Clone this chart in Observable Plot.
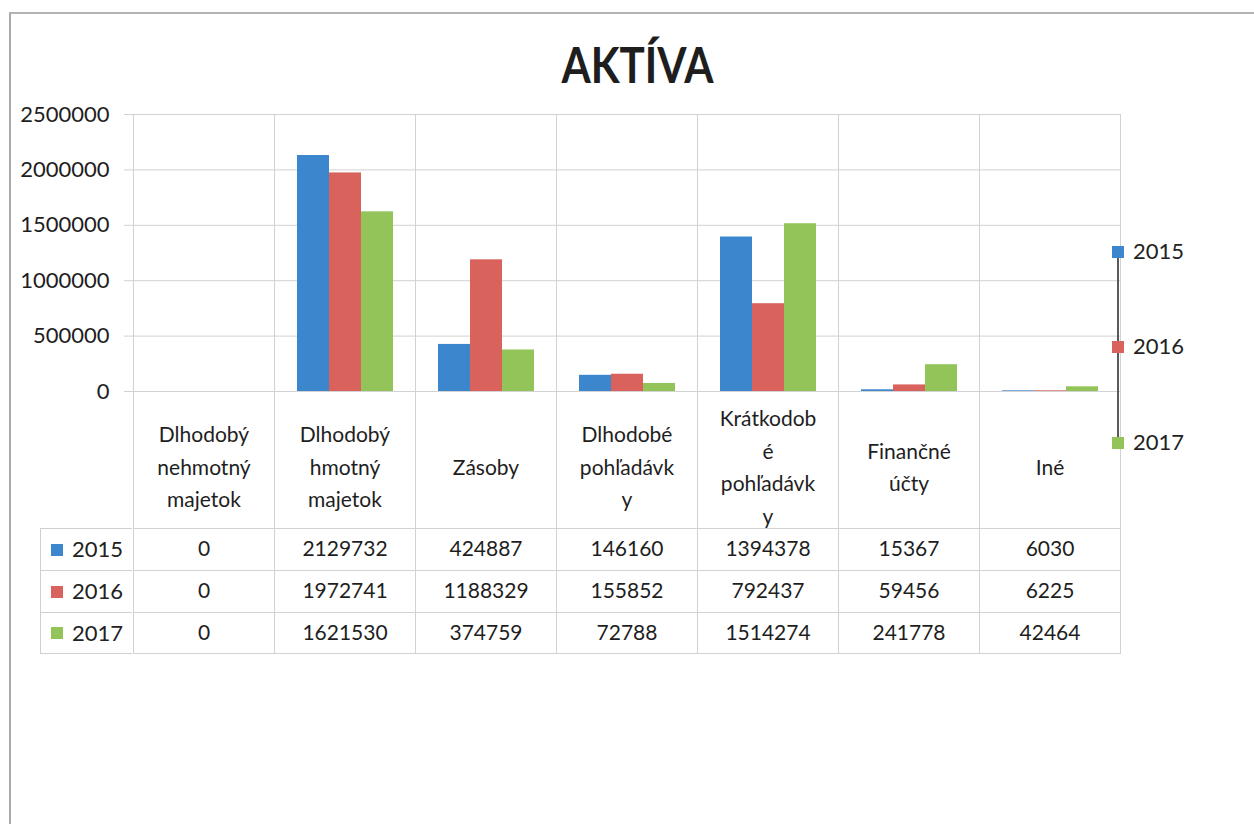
<!DOCTYPE html>
<html>
<head>
<meta charset="utf-8">
<script src="https://cdn.jsdelivr.net/npm/d3@7"></script>
<script src="https://cdn.jsdelivr.net/npm/@observablehq/plot@0.6"></script>
<style>
  body { margin: 0; background: #fff; font-family: Lato, "Open Sans", sans-serif; color: #222; }
  #wrap { position: relative; width: 1254px; height: 824px; overflow: hidden; background: #fff; }
  #border { position: absolute; left: 9px; top: 12px; right: -10px; bottom: -10px;
            border-left: 2px solid #a9a9a9; border-top: 2px solid #b3b3b3; pointer-events: none; }
  #title { height: 100px; box-sizing: border-box; padding-top: 40px; padding-left: 20px;
           text-align: center; font-weight: 700; font-size: 49px; line-height: 1; color: #1e1e1e; }
  #title span { display: inline-block; transform: scaleX(0.86); transform-origin: center; }
  #rowhdr { position: absolute; left: 40px; top: 528px; width: 92px; box-sizing: border-box;
            border-top: 1px solid #d0d0d0; border-left: 1px solid #d0d0d0; }
  .rh { position: relative; box-sizing: border-box; border-bottom: 1px solid #d0d0d0; font-size: 22px; }
  .rh .sw { position: absolute; left: 10px; width: 12px; height: 12px; }
  .rh .tx { position: absolute; left: 31px; }
  .lg { position: absolute; font-size: 22px; }
  .lgsw { position: absolute; width: 12px; height: 12px; }
  #lgline { position: absolute; left: 1117px; width: 1.5px; background: #5a5a5a; }
  svg { display: block; }
</style>
</head>
<body>
<div id="wrap">
  <div id="title"><span>AKTÍVA</span></div>
</div>
<script>
// ---- data ----
const categories = [
  "Dlhodobý\nnehmotný\nmajetok",
  "Dlhodobý\nhmotný\nmajetok",
  "Zásoby",
  "Dlhodobé\npohľadávk\ny",
  "Krátkodob\né\npohľadávk\ny",
  "Finančné\núčty",
  "Iné"
];
const years = ["2015", "2016", "2017"];
const values2015 = [0, 2129732, 424887, 146160, 1394378, 15367, 6030];
const values2016 = [0, 1972741, 1188329, 155852, 792437, 59456, 6225];
const values2017 = [0, 1621530, 374759, 72788, 1514274, 241778, 42464];
const yTicks = [0, 500000, 1000000, 1500000, 2000000, 2500000];
const colors = ["#3b86cc", "#d9625c", "#92c45a"];

const series = [values2015, values2016, values2017];
const rows = [];
years.forEach((yr, i) => categories.forEach((c, j) => rows.push({cat: c, year: yr, value: series[i][j]})));

// layout offsets (pixels below the zero line) for the data table
const headerDy = 73;
const rowDy = [158, 200, 242];
const rowLineDy = [137, 179, 221];
const tableBottom = 262;
const gridColor = "#d2d2d2";

const marks = [
  Plot.gridY(yTicks, {stroke: gridColor, strokeOpacity: 1}),
  Plot.frame({stroke: gridColor, insetBottom: -tableBottom}),
  ...rowLineDy.map(dy => Plot.ruleY([0], {stroke: gridColor, dy})),
  Plot.barY(rows, {fx: "cat", x: "year", y: "value", fill: "year", inset: 0}),
  Plot.axisY(yTicks, {tickSize: 9, tickPadding: 15, stroke: gridColor, fill: "#1e1e1e",
                      fontSize: 22, tickFormat: d3.format("d"), label: null}),
  Plot.text(categories, {fx: d => d, text: d => d, frameAnchor: "bottom", lineAnchor: "middle",
                         dy: headerDy, fontSize: 21, lineHeight: 1.55, fill: "#1e1e1e"}),
  ...years.map((yr, i) => Plot.text(rows.filter(r => r.year === yr), {
    fx: "cat", text: d => String(d.value), frameAnchor: "bottom", lineAnchor: "middle",
    dy: rowDy[i], fontSize: 21, fill: "#1e1e1e"
  }))
];

const chart = Plot.plot({
  width: 1254,
  height: 724,
  marginTop: 14,
  marginBottom: 433,
  marginLeft: 132,
  marginRight: 134,
  style: {fontFamily: "Lato, 'Open Sans', sans-serif", background: "transparent", overflow: "visible"},
  fx: {domain: categories, padding: 0, axis: null},
  x: {domain: years, paddingInner: 0, paddingOuter: 0.7, axis: null},
  y: {domain: [0, 2500000], axis: null},
  color: {domain: years, range: colors},
  marks
});

const wrap = document.getElementById("wrap");
wrap.appendChild(chart);

// outer chart border
const border = document.createElement("div");
border.id = "border";
wrap.appendChild(border);

// data table row header (legend keys)
const rowHeights = [42, 42, 41];
const rh = document.createElement("div");
rh.id = "rowhdr";
years.forEach((yr, i) => {
  const r = document.createElement("div");
  r.className = "rh";
  r.style.height = rowHeights[i] + "px";
  r.innerHTML = `<span class="sw" style="background:${colors[i]};top:${(rowHeights[i] - 13) / 2}px"></span>` +
                `<span class="tx" style="top:${(rowHeights[i] - 30) / 2}px;line-height:28px">${yr}</span>`;
  rh.appendChild(r);
});
wrap.appendChild(rh);

// right-hand legend
const legendY = [252, 347, 443];
const line = document.createElement("div");
line.id = "lgline";
line.style.top = legendY[0] + "px";
line.style.height = (legendY[2] - legendY[0]) + "px";
wrap.appendChild(line);
years.forEach((yr, i) => {
  const sw = document.createElement("div");
  sw.className = "lgsw";
  sw.style.left = "1112px";
  sw.style.top = (legendY[i] - 6) + "px";
  sw.style.background = colors[i];
  wrap.appendChild(sw);
  const t = document.createElement("div");
  t.className = "lg";
  t.style.left = "1133px";
  t.style.top = (legendY[i] - 15) + "px";
  t.style.lineHeight = "28px";
  t.textContent = yr;
  wrap.appendChild(t);
});
</script>
</body>
</html>
